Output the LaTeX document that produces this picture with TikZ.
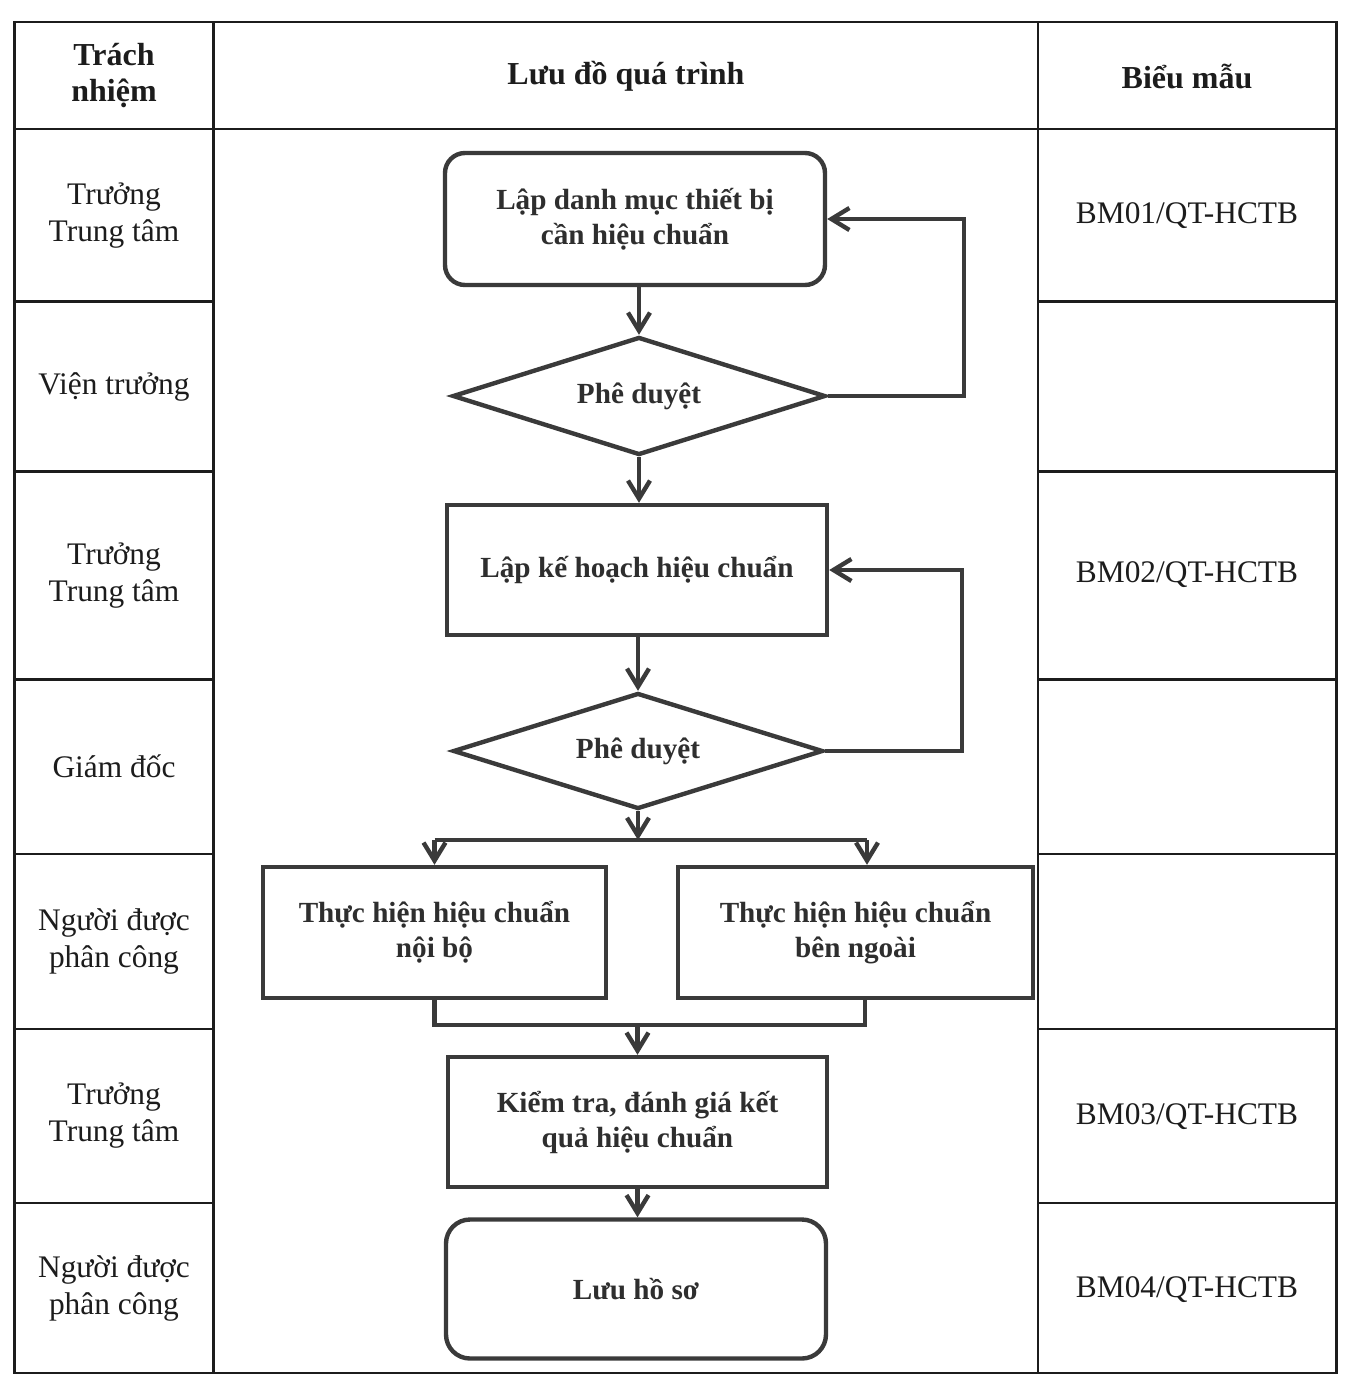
\documentclass[tikz,border=0pt]{standalone}
\usepackage{fontspec}
\setmainfont{Liberation Serif}
\usetikzlibrary{shapes.geometric,arrows.meta}
\definecolor{ink}{HTML}{1C1C1C}
\definecolor{flowink}{HTML}{3A3A3A}
\definecolor{flowtext}{HTML}{2E2E2E}

\begin{document}
\begin{tikzpicture}[x=0.5pt,y=-0.5pt,
  grid/.style={draw=ink,line width=1.2pt},
  role/.style={align=center,font=\fontsize{15.7}{18.5}\selectfont,text=ink},
  head/.style={align=center,font=\fontsize{16}{18}\selectfont\bfseries,text=ink},
  proc/.style={draw=flowink,line width=2.2pt,align=center,inner sep=0pt,
    font=\fontsize{14.6}{17.5}\selectfont\bfseries,text=flowtext},
  term/.style={proc,rounded corners=10pt},
  decide/.style={proc,diamond,aspect=3.16},
  link/.style={draw=flowink,line width=2.2pt},
  arr/.style={link,-{Straight Barb[length=9pt,width=11pt]}},
]
\useasboundingbox (0,0) rectangle (1348,1383);

% table frame
\draw[grid] (14.5,22) rectangle (1336.5,1373);
\draw[grid] (213.5,22) -- (213.5,1373);
\draw[grid] (1038,22) -- (1038,1373);
\draw[grid] (14.5,129) -- (1336.5,129);
\foreach \r in {301.5,471.5,679.5,854,1029,1203}{
  \draw[grid] (14.5,\r) -- (213.5,\r);
  \draw[grid] (1038,\r) -- (1336.5,\r);
}

% header row
\node[head] (hResp) at (114,75.5) {Trách\\nhiệm};
\node[head] (hFlow) at (626,76) {Lưu đồ quá trình};
\node[head] (hForm) at (1187,76) {Biểu mẫu};

% responsibility column
\node[role] (r1) at (114,215.25) {Trưởng\\Trung tâm};
\node[role] (r2) at (114,386.5) {Viện trưởng};
\node[role] (r3) at (114,575.5) {Trưởng\\Trung tâm};
\node[role] (r4) at (114,766.75) {Giám đốc};
\node[role] (r5) at (114,941.5) {Người được\\phân công};
\node[role] (r6) at (114,1116) {Trưởng\\Trung tâm};
\node[role] (r7) at (114,1288) {Người được\\phân công};

% forms column
\node[role] (f1) at (1187,215.5) {BM01/QT-HCTB};
\node[role] (f3) at (1187,574.5) {BM02/QT-HCTB};
\node[role] (f6) at (1187,1116.5) {BM03/QT-HCTB};
\node[role] (f7) at (1187,1289.5) {BM04/QT-HCTB};

% process flow
\node[term, minimum width=190pt, minimum height=66pt] (list) at (635,219)
  {Lập danh mục thiết bị\\cần hiệu chuẩn};
\node[decide, minimum width=186.5pt, minimum height=59pt] (ok1) at (639,396) {Phê duyệt};
\node[proc, minimum width=190pt, minimum height=65pt] (plan) at (637,570)
  {Lập kế hoạch hiệu chuẩn};
\node[decide, minimum width=185pt, minimum height=58pt] (ok2) at (638,751) {Phê duyệt};
\node[proc, minimum width=171.5pt, minimum height=65.5pt] (inhouse) at (434.5,932.5)
  {Thực hiện hiệu chuẩn\\nội bộ};
\node[proc, minimum width=177.5pt, minimum height=65.5pt] (outside) at (855.5,932.5)
  {Thực hiện hiệu chuẩn\\bên ngoài};
\node[proc, minimum width=189.5pt, minimum height=65pt] (check) at (637.5,1122)
  {Kiểm tra, đánh giá kết\\quả hiệu chuẩn};
\node[term, rounded corners=12pt, minimum width=190pt, minimum height=69.5pt] (store) at (636,1289)
  {Lưu hồ sơ};

% connectors
\draw[arr] (list.south -| ok1.north) -- (ok1.north);
\draw[arr] (ok1.east) -- ++(136,0) |- (list.east);
\draw[arr] (ok1.south) -- (ok1.south |- plan.north);
\draw[arr] (ok2.east) -- ++(137,0) |- (plan.east);
\draw[arr] (plan.south -| ok2.north) -- (ok2.north);

\coordinate (fork) at (638,840);
\coordinate (forkL) at (inhouse.north |- fork);
\coordinate (forkR) at (867,840);
\draw[arr] (ok2.south) -- (fork);
\draw[link] (forkL) -- (forkR);
\draw[arr] (forkL) -- (inhouse.north);
\draw[arr] (forkR) -- (forkR |- outside.north);

\coordinate (join) at (check.north |- 0,1025);
\coordinate (joinR) at (865,1025);
\draw[link] (inhouse.south) |- (joinR) -- (joinR |- outside.south);
\draw[arr] (join) -- (check.north);
\draw[arr] (check.south) -- (check.south |- store.north);
\end{tikzpicture}
\end{document}
